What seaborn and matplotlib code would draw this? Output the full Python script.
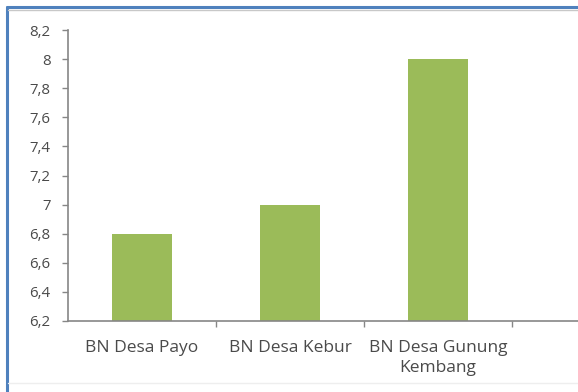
import matplotlib
matplotlib.use("Agg")
import matplotlib.pyplot as plt
import seaborn as sns
import pandas as pd
from matplotlib.lines import Line2D
from matplotlib.ticker import FuncFormatter, FixedLocator

# Values per village
categories = ["BN Desa Payo", "BN Desa Kebur", "BN Desa Gunung\nKembang"]
values = [6.8, 7.0, 8.0]
y_ticks = [6.2, 6.4, 6.6, 6.8, 7.0, 7.2, 7.4, 7.6, 7.8, 8.0, 8.2]

df = pd.DataFrame({"desa": categories, "nilai": values})

sns.set_theme(style="white")
plt.rcParams["font.family"] = ["Open Sans", "DejaVu Sans"]

W, H = 578, 392
fig = plt.figure(figsize=(W / 100, H / 100), dpi=100)
fig.patch.set_facecolor("white")

# plot area in pixel terms (extends past the right edge of the canvas)
x0, x1 = 68, 660
y_top, y_bot = 30, 321
ax = fig.add_axes([x0 / W, 1 - y_bot / H, (x1 - x0) / W, (y_bot - y_top) / H])

sns.barplot(data=df, x="desa", y="nilai", color="#9BBB59", width=0.4,
            saturation=1, ax=ax, edgecolor="none")

ax.set_xlim(-0.5, 3.5)
ax.set_ylim(6.2, 8.2)
ax.set_yticks(y_ticks)
ax.yaxis.set_major_formatter(FuncFormatter(lambda v, p: f"{v:g}".replace(".", ",")))
ax.set_xlabel("")
ax.set_ylabel("")

ax.xaxis.set_minor_locator(FixedLocator([0.5, 1.5, 2.5]))
ax.tick_params(axis="x", which="major", length=0, pad=14, labelsize=12.5, labelcolor="#4a4a4a")
ax.tick_params(axis="x", which="minor", length=4.5, width=1, color="#868686", direction="out", bottom=True)
ax.tick_params(axis="y", length=4.5, width=1, color="#868686", pad=8, labelsize=10.8,
               labelcolor="#4a4a4a", left=True, direction="out")
for lbl in ax.get_xticklabels():
    lbl.set_linespacing(1.3)

for s in ["top", "right"]:
    ax.spines[s].set_visible(False)
for s in ["left", "bottom"]:
    ax.spines[s].set_color("#868686")
    ax.spines[s].set_linewidth(1.2)

# chart frame
fig.add_artist(Line2D([7 / W, 7 / W], [0, 1 - 7 / H], color="#4F81BD", lw=2.2, transform=fig.transFigure))
fig.add_artist(Line2D([7 / W, 1], [1 - 7 / H, 1 - 7 / H], color="#4F81BD", lw=2.2, transform=fig.transFigure))
fig.add_artist(Line2D([8 / W, 1], [1 - 10 / H, 1 - 10 / H], color="#C8C8C8", lw=1, transform=fig.transFigure))
fig.add_artist(Line2D([8 / W, 1], [1 - 383 / H, 1 - 383 / H], color="#EEEEEE", lw=1, transform=fig.transFigure))

fig.savefig("out.png", dpi=100)
